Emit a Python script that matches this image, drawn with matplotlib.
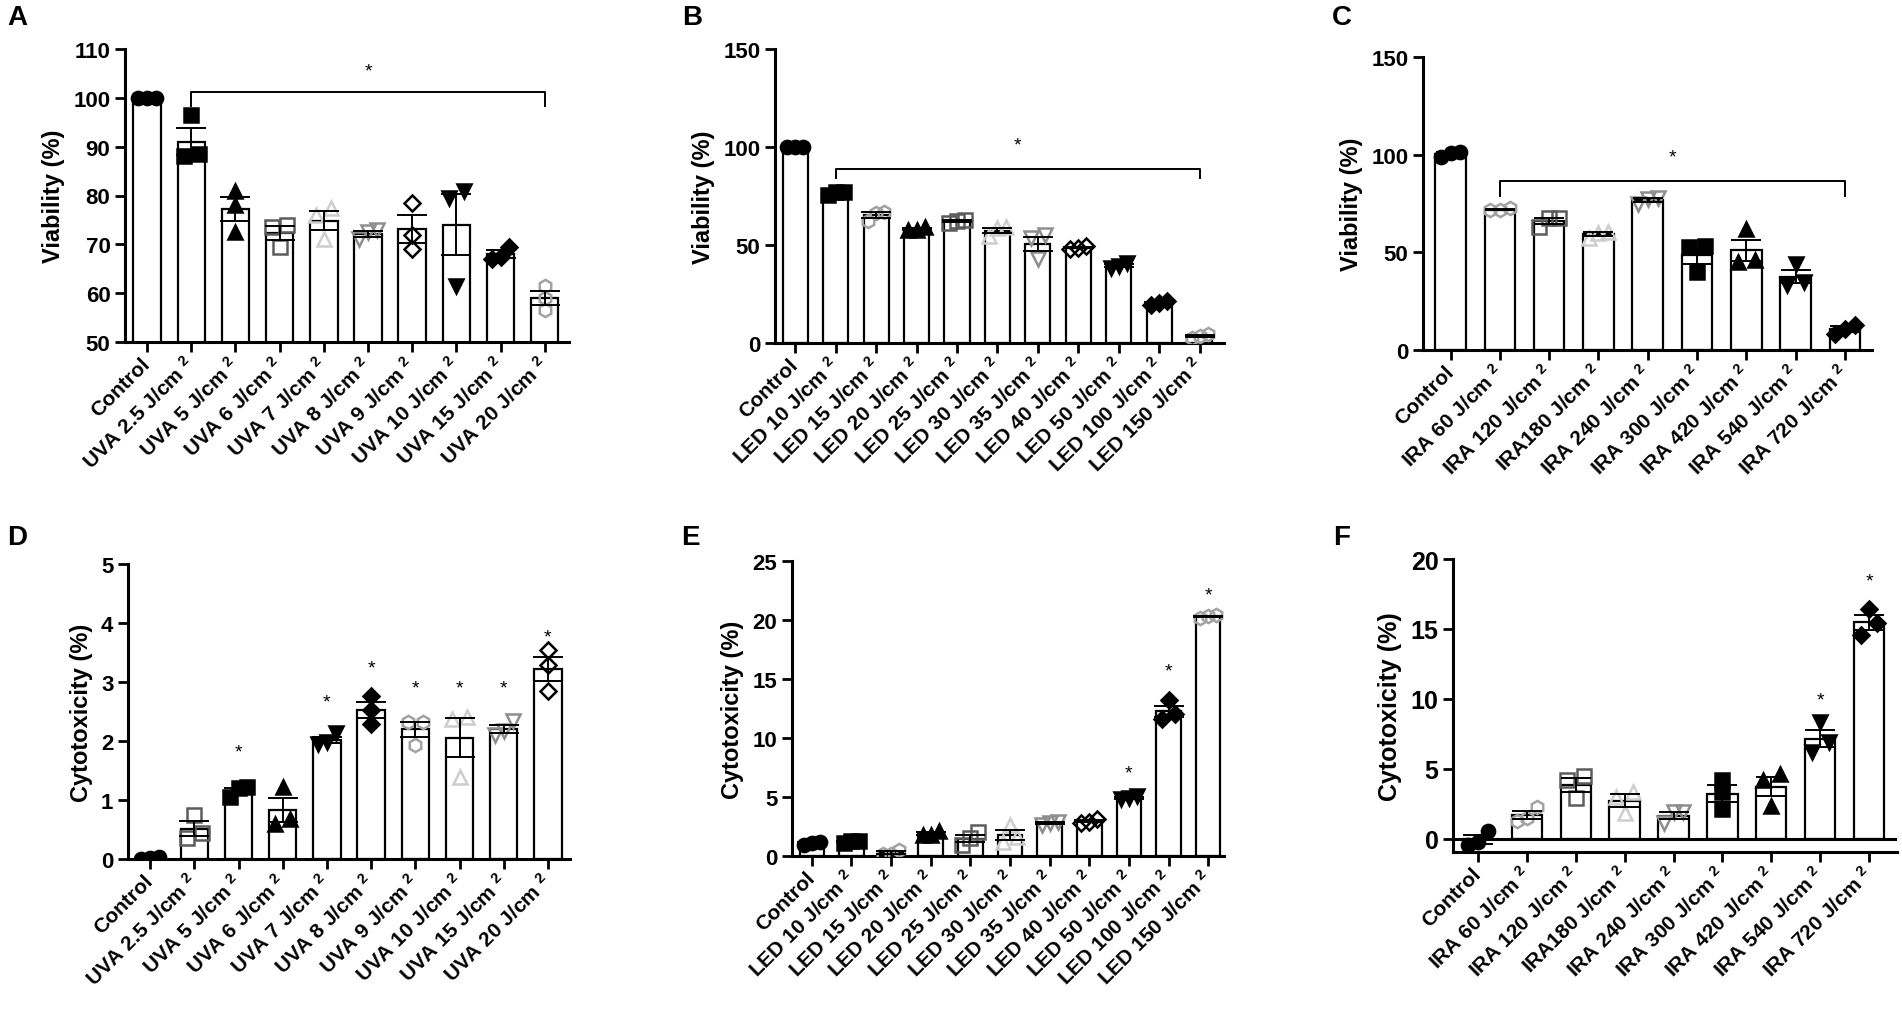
import numpy as np
import matplotlib
matplotlib.use("Agg")
import matplotlib.pyplot as plt

plt.rcParams['font.family'] = ['Liberation Sans', 'DejaVu Sans']
plt.rcParams['font.weight'] = 'bold'
plt.rcParams['axes.labelweight'] = 'bold'
plt.rcParams['mathtext.default'] = 'regular'

# ---------------- data ----------------
uva_labels = ['Control', 'UVA 2.5 J/cm $^2$', 'UVA 5 J/cm $^2$', 'UVA 6 J/cm $^2$',
              'UVA 7 J/cm $^2$', 'UVA 8 J/cm $^2$', 'UVA 9 J/cm $^2$',
              'UVA 10 J/cm $^2$', 'UVA 15 J/cm $^2$', 'UVA 20 J/cm $^2$']
led_labels = ['Control', 'LED 10 J/cm $^2$', 'LED 15 J/cm $^2$', 'LED 20 J/cm $^2$',
              'LED 25 J/cm $^2$', 'LED 30 J/cm $^2$', 'LED 35 J/cm $^2$',
              'LED 40 J/cm $^2$', 'LED 50 J/cm $^2$', 'LED 100 J/cm $^2$',
              'LED 150 J/cm $^2$']
ira_labels = ['Control', 'IRA 60 J/cm $^2$', 'IRA 120 J/cm $^2$', 'IRA180 J/cm $^2$',
              'IRA 240 J/cm $^2$', 'IRA 300 J/cm $^2$', 'IRA 420 J/cm $^2$',
              'IRA 540 J/cm $^2$', 'IRA 720 J/cm $^2$']

# replicate values (n=3) per group
uva_viability = [[100, 100, 100], [88, 96.5, 88.5], [81, 78, 72.5], [73.5, 74, 69.5],
                 [77.5, 76, 71], [73, 71, 72.5], [78.5, 72, 69], [81, 79.5, 61.5],
                 [69.5, 67, 67.5], [56.5, 61.5, 59]]
led_viability = [[100, 100, 100], [77, 75.5, 77], [62.5, 67, 66.5], [57.5, 59, 57.5],
                 [61, 63, 62.5], [54.5, 59, 58.5], [53.5, 55, 43], [48.5, 49.5, 48],
                 [41, 39.5, 38.5], [19.5, 21.5, 20.5], [2.5, 4.5, 3.5]]
ira_viability = [[99, 101.5, 101], [71.5, 72.5, 71.5], [63, 67.5, 67.5], [57.5, 60, 60.5],
                 [75, 78, 77.5], [40, 52.5, 53], [45, 62, 46], [35, 44, 33.5],
                 [8, 13, 11]]

uva_cytotox = [[0.03, 0.0, 0.02], [0.36, 0.75, 0.44], [1.05, 1.22, 1.2], [0.59, 1.22, 0.68],
               [1.95, 2.13, 1.98], [2.29, 2.77, 2.53], [2.33, 1.93, 2.33], [2.38, 1.39, 2.4],
               [2.11, 2.34, 2.17], [2.85, 3.55, 3.28]]
led_cytotox = [[0.9, 1.1, 1.2], [1.1, 1.25, 1.3], [0.2, 0.5, 0.2], [1.8, 2.1, 1.8],
               [0.9, 2.0, 1.5], [1.2, 2.6, 1.6], [2.6, 2.9, 2.8], [2.8, 3.1, 2.9],
               [4.8, 5.1, 4.9], [11.6, 13.2, 12.0], [20.2, 20.4, 20.3]]
ira_cytotox = [[-0.45, 0.6, -0.2], [1.31, 2.26, 1.5], [2.92, 4.52, 4.2], [1.86, 3.35, 3.0],
               [1.14, 1.93, 1.93], [2.14, 3.35, 4.2], [4.64, 2.38, 4.2], [6.24, 8.33, 6.93],
               [14.57, 16.43, 15.4]]

# significance marks (y of the asterisk, None = no mark)
uva_cyto_stars = [None, None, 1.82, None, 2.67, 3.24, 2.9, 2.9, 2.9, 3.77]
led_cyto_stars = [None, None, None, None, None, None, None, None, 7.0, 15.7, 22.1]
ira_cyto_stars = [None, None, None, None, None, None, None, 9.95, 18.45]

# bracket over groups 1..last in viability panels: (height, drop end, star y)
uva_bracket = (101.2, 98.4, 105.5)
led_bracket = (88.8, 84, 101)
ira_bracket = (86.5, 79, 98.8)

# ---------------- marker styles ----------------
K, DG, LG, MG, HG = 'black', '#5c5c5c', '#cdcdcd', '#8e8e8e', '#a2a2a2'
style_uva_v = [('o', K, K), ('s', K, K), ('^', K, K), ('s', 'none', DG), ('^', 'none', LG),
               ('v', 'none', MG), ('D', 'none', K), ('v', K, K), ('D', K, K), ('h', 'none', HG)]
style_uva_c = [('o', K, K), ('s', 'none', DG), ('s', K, K), ('^', K, K), ('v', K, K),
               ('D', K, K), ('h', 'none', HG), ('^', 'none', LG), ('v', 'none', MG), ('D', 'none', K)]
style_led = [('o', K, K), ('s', K, K), ('h', 'none', HG), ('^', K, K), ('s', 'none', DG),
             ('^', 'none', LG), ('v', 'none', MG), ('D', 'none', K), ('v', K, K), ('D', K, K),
             ('h', 'none', HG)]
style_ira = [('o', K, K), ('h', 'none', HG), ('s', 'none', DG), ('^', 'none', LG),
             ('v', 'none', MG), ('s', K, K), ('^', K, K), ('v', K, K), ('D', K, K)]


def swarm(vals, yspan, close=0.04):
    # spread points sideways only where they would overlap
    vals = np.asarray(vals, float)
    order = np.argsort(vals)
    offs = np.zeros(len(vals))
    groups = [[order[0]]]
    for i in order[1:]:
        if (vals[i] - vals[groups[-1][-1]]) / yspan < close:
            groups[-1].append(i)
        else:
            groups.append([i])
    for g in groups:
        spots = {1: [0], 2: [-0.17, 0.17], 3: [-0.2, 0, 0.2]}[len(g)]
        for j, s in zip(g, spots):
            offs[j] = s
    return offs


def panel(rect, labels, reps, styles, ylim, yticks, ylabel, xlim,
          stars=None, bracket=None, zero_line=False, tsize=16, lsize=17):
    ax = fig.add_axes(rect)
    x = np.arange(len(labels))
    reps = np.asarray(reps, float)
    means = reps.mean(axis=1)
    sem = reps.std(axis=1, ddof=1) / np.sqrt(reps.shape[1])
    ax.bar(x, means, width=0.62, facecolor='white', edgecolor='black', linewidth=1.6, zorder=1)
    span = ylim[1] - ylim[0]
    for i, (m, fc, ec) in enumerate(styles):
        offs = swarm(reps[i], span)
        ms = 8 if m == 'D' else 9.5
        ax.plot(x[i] + offs, reps[i], linestyle='none', marker=m, ms=ms,
                markerfacecolor=fc, markeredgecolor=ec, markeredgewidth=1.8, zorder=3)
    ax.errorbar(x, means, yerr=sem, fmt='none', ecolor='black', elinewidth=1.4,
                capsize=11, capthick=1.4, zorder=4)
    if stars is not None:
        for i, s in enumerate(stars):
            if s is not None:
                ax.text(x[i], s, '*', ha='center', va='center', fontsize=14,
                        fontweight='normal', zorder=5)
    if bracket is not None:
        h, d, sy = bracket
        ax.plot([1, 1, x[-1], x[-1]], [d, h, h, d], color='black', lw=1.4, zorder=5)
        ax.text((1 + x[-1]) / 2, sy, '*', ha='center', va='center', fontsize=14,
                fontweight='normal')
    if zero_line:
        ax.axhline(0, color='black', lw=2.2, zorder=2)
    ax.set_xlim(*xlim)
    ax.set_ylim(*ylim)
    ax.set_yticks(yticks)
    ax.set_xticks(x)
    ax.set_xticklabels(labels, rotation=45, ha='right', va='center', rotation_mode='anchor',
                       fontsize=15, fontweight='bold')
    ax.tick_params(axis='y', labelsize=tsize, width=2, length=7)
    ax.tick_params(axis='x', width=2, length=7, pad=6)
    for lab in ax.get_yticklabels():
        lab.set_fontweight('bold')
    for side in ('top', 'right'):
        ax.spines[side].set_visible(False)
    for side in ('left', 'bottom'):
        ax.spines[side].set_linewidth(2.2)
    ax.set_ylabel(ylabel, fontsize=lsize, fontweight='bold', labelpad=6)
    return ax


W, H = 1902, 1012
fig = plt.figure(figsize=(W / 100, H / 100), dpi=100)


def px(l, t, r, b):
    return [l / W, 1 - b / H, (r - l) / W, (b - t) / H]


panel(px(125, 50, 569, 343), uva_labels, uva_viability, style_uva_v,
      (50, 110), range(50, 111, 10), 'Viability (%)', (-0.5, 9.55), bracket=uva_bracket)
panel(px(775, 50, 1224, 344), led_labels, led_viability, style_led,
      (0, 150), [0, 50, 100, 150], 'Viability (%)', (-0.5, 10.6), bracket=led_bracket)
panel(px(1423, 58, 1872, 351), ira_labels, ira_viability, style_ira,
      (0, 150), [0, 50, 100, 150], 'Viability (%)', (-0.56, 8.55), bracket=ira_bracket)
panel(px(128, 565, 570, 860), uva_labels, uva_cytotox, style_uva_c,
      (0, 5), range(0, 6), 'Cytotoxicity (%)', (-0.5, 9.5), stars=uva_cyto_stars)
panel(px(792, 562, 1224, 857), led_labels, led_cytotox, style_led,
      (0, 25), range(0, 26, 5), 'Cytotoxicity (%)', (-0.5, 10.4), stars=led_cyto_stars)
panel(px(1453, 560, 1897, 853), ira_labels, ira_cytotox, style_ira,
      (-0.93, 20), range(0, 21, 5), 'Cytotoxicity (%)', (-0.51, 8.57), stars=ira_cyto_stars,
      zero_line=True, tsize=18, lsize=18)

for letter, (lx, ly) in zip('ABCDEF', [(17, 18), (692, 18), (1342, 18),
                                        (17, 538), (690, 538), (1342, 538)]):
    fig.text(lx / W, 1 - ly / H, letter, fontsize=20, fontweight='bold',
             ha='center', va='center')

fig.savefig('out.png', dpi=100, facecolor='white')
